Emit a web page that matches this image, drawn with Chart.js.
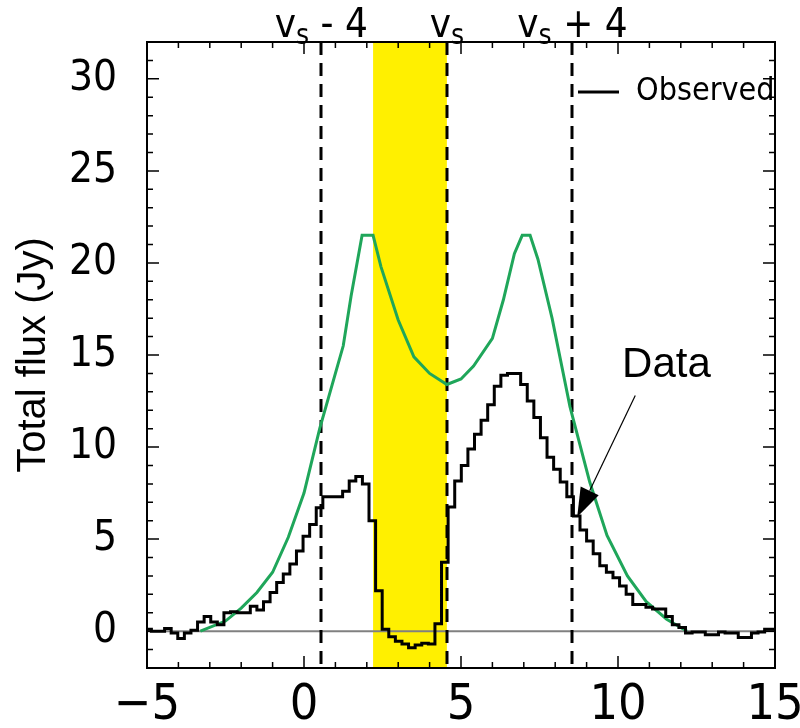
<!DOCTYPE html>
<html>
<head>
<meta charset="utf-8">
<script src="https://cdn.jsdelivr.net/npm/chart.js@4.4.1/dist/chart.umd.min.js"></script>
<style>
  html, body { margin: 0; padding: 0; background: #fff; }
</style>
</head>
<body>
<canvas id="fluxChart" width="800" height="728"></canvas>
<script>
// channel left edges (km/s) and observed flux (Jy)
const chanVel = [
  -5.07, -4.86, -4.65, -4.44, -4.23, -4.02, -3.81, -3.60, -3.39, -3.18,
  -2.97, -2.76, -2.55, -2.34, -2.13, -1.92, -1.71, -1.50, -1.29, -1.08,
  -0.87, -0.66, -0.45, -0.24, -0.03, 0.18, 0.39, 0.60, 0.81, 1.02,
  1.23, 1.44, 1.65, 1.86, 2.07, 2.28, 2.49, 2.70, 2.91, 3.12,
  3.33, 3.54, 3.75, 3.96, 4.17, 4.38, 4.59, 4.80, 5.01, 5.22,
  5.43, 5.64, 5.85, 6.06, 6.27, 6.48, 6.69, 6.90, 7.11, 7.32,
  7.53, 7.74, 7.95, 8.16, 8.37, 8.58, 8.79, 9.00, 9.21, 9.42,
  9.63, 9.84, 10.05, 10.26, 10.47, 10.68, 10.89, 11.10, 11.31, 11.52,
  11.73, 11.94, 12.15, 12.36, 12.57, 12.78, 12.99, 13.20, 13.41, 13.62,
  13.83, 14.04, 14.25, 14.46, 14.67, 14.88, 15.09
];
const obsFlux = [
  0.1, 0.0, 0.0, 0.15, -0.1, -0.4, -0.1, 0.05, 0.5, 0.8,
  0.5, 0.35, 1.0, 1.05, 1.0, 1.0, 1.35, 1.15, 1.6, 2.1,
  2.65, 3.1, 3.65, 4.35, 5.15, 5.8, 6.7, 7.3, 7.3, 7.3,
  7.6, 8.15, 8.4, 8.0, 6.0, 2.2, 0.1, -0.3, -0.55, -0.7,
  -0.9, -0.75, -0.65, -0.7, 0.4, 3.75, 6.75, 8.15, 9.0, 9.9,
  10.7, 11.45, 12.3, 13.3, 13.9, 14.0, 14.0, 13.4, 12.5, 11.6,
  10.5, 9.45, 8.8, 8.1, 7.3, 6.25, 5.5, 4.9, 4.2, 3.55,
  3.2, 2.9, 2.45, 2.0, 1.45, 1.45, 1.3, 1.2, 1.2, 0.8,
  0.35, 0.2, -0.1, -0.05, -0.05, -0.2, -0.2, -0.05, -0.1, -0.1,
  -0.35, -0.35, -0.1, -0.05, 0.1, 0.1, 0.1
];

// model profile
const modelVel = [
  -3.3, -2.5, -2.0, -1.5, -1.0, -0.5, 0.0, 0.5, 1.0, 1.25,
  1.5, 1.85, 2.2, 2.45, 3.0, 3.5, 4.0, 4.55, 5.0, 5.4,
  6.0, 6.35, 6.7, 6.95, 7.2, 7.45, 7.9, 8.47, 9.1, 9.65,
  10.3, 10.9, 11.55, 12.2
];
const modelFlux = [
  0.0, 0.55, 1.25, 2.1, 3.2, 5.1, 7.5, 11.0, 14.0, 15.5,
  18.2, 21.5, 21.5, 19.8, 16.9, 14.9, 14.0, 13.4, 13.7, 14.4,
  15.9, 18.0, 20.5, 21.5, 21.5, 20.2, 17.0, 12.2, 8.1, 5.2,
  3.0, 1.6, 0.65, 0.0
];

const xTickLabels = [-5, 0, 5, 10, 15];
const yTickLabels = [0, 5, 10, 15, 20, 25, 30];

const vSys = 4.55;
const markerOffsets = [-4, 0, 4];
const markerSuffix = [' - 4', '', ' + 4'];
const bandRange = [2.2, 4.55];

const arrowTail = [10.55, 12.8];
const arrowTip = [8.7, 6.2];
const dataLabelAt = [10.13, 13.8];

const narrow = "'Liberation Sans Narrow', 'DejaVu Sans Condensed', 'Liberation Sans', sans-serif";

const decor = {
  id: 'decor',
  beforeDatasetsDraw(chart) {
    const { ctx, chartArea: a, scales: { x, y } } = chart;
    ctx.save();
    // yellow band
    const b0 = x.getPixelForValue(bandRange[0]);
    const b1 = x.getPixelForValue(bandRange[1]);
    ctx.fillStyle = '#fff000';
    ctx.fillRect(b0, a.top, b1 - b0, a.bottom - a.top);
    // zero line
    const y0 = y.getPixelForValue(0);
    ctx.strokeStyle = '#808080';
    ctx.lineWidth = 2;
    ctx.beginPath();
    ctx.moveTo(a.left, y0);
    ctx.lineTo(a.right, y0);
    ctx.stroke();
    // dashed markers
    ctx.strokeStyle = '#000';
    ctx.lineWidth = 3;
    ctx.setLineDash([13, 8]);
    markerOffsets.forEach(o => {
      const px = Math.round(x.getPixelForValue(vSys + o));
      ctx.beginPath();
      ctx.moveTo(px, a.top);
      ctx.lineTo(px, a.bottom);
      ctx.stroke();
    });
    ctx.restore();
  },
  afterDatasetsDraw(chart) {
    const { ctx, chartArea: a, scales: { x, y } } = chart;
    ctx.save();
    // frame
    ctx.strokeStyle = '#000';
    ctx.lineWidth = 2;
    ctx.strokeRect(a.left, a.top, a.right - a.left, a.bottom - a.top);
    // inward ticks
    ctx.lineWidth = 1.5;
    ctx.beginPath();
    for (let v = -5; v <= 15; v++) {
      const px = x.getPixelForValue(v);
      const len = v % 5 === 0 ? 12 : 6;
      ctx.moveTo(px, a.bottom); ctx.lineTo(px, a.bottom - len);
      ctx.moveTo(px, a.top); ctx.lineTo(px, a.top + len);
    }
    for (let v = -2; v <= 32; v++) {
      const py = y.getPixelForValue(v);
      const len = v % 5 === 0 ? 12 : 6;
      ctx.moveTo(a.left, py); ctx.lineTo(a.left + len, py);
      ctx.moveTo(a.right, py); ctx.lineTo(a.right - len, py);
    }
    ctx.stroke();

    // legend
    const ly = a.top + 50;
    ctx.lineWidth = 3;
    ctx.beginPath();
    ctx.moveTo(a.right - 197, ly);
    ctx.lineTo(a.right - 156, ly);
    ctx.stroke();
    ctx.fillStyle = '#000';
    ctx.font = '32px ' + narrow;
    ctx.textBaseline = 'middle';
    ctx.textAlign = 'left';
    ctx.fillText('Observed', a.right - 139, ly);

    // top labels: v_s offsets
    ctx.textBaseline = 'alphabetic';
    markerOffsets.forEach((o, i) => {
      const cx = x.getPixelForValue(vSys + o);
      const big = '40px ' + narrow, small = '28px ' + narrow;
      ctx.font = big; const wv = ctx.measureText('v').width;
      const wsuf = ctx.measureText(markerSuffix[i]).width;
      ctx.font = small; const ws = ctx.measureText('s').width;
      let left = cx - (wv + ws + wsuf) / 2;
      const base = a.top - 5;
      ctx.font = big; ctx.fillText('v', left, base);
      ctx.font = small; ctx.fillText('s', left + wv, base + 7);
      ctx.font = big; ctx.fillText(markerSuffix[i], left + wv + ws, base);
    });

    // "Data" annotation
    ctx.font = '42px "Liberation Sans", Arial, sans-serif';
    ctx.fillText('Data', x.getPixelForValue(dataLabelAt[0]), y.getPixelForValue(dataLabelAt[1]));
    const tx = x.getPixelForValue(arrowTail[0]), ty = y.getPixelForValue(arrowTail[1]);
    const hx = x.getPixelForValue(arrowTip[0]), hy = y.getPixelForValue(arrowTip[1]);
    const ang = Math.atan2(hy - ty, hx - tx);
    const hl = 29, hw = 10;
    const bx = hx - hl * Math.cos(ang), by = hy - hl * Math.sin(ang);
    ctx.lineWidth = 1.2;
    ctx.beginPath();
    ctx.moveTo(tx, ty);
    ctx.lineTo(bx, by);
    ctx.stroke();
    ctx.beginPath();
    ctx.moveTo(hx, hy);
    ctx.lineTo(bx + hw * Math.sin(ang), by - hw * Math.cos(ang));
    ctx.lineTo(bx - hw * Math.sin(ang), by + hw * Math.cos(ang));
    ctx.closePath();
    ctx.fill();
    ctx.restore();
  }
};

new Chart(document.getElementById('fluxChart'), {
  type: 'line',
  data: {
    datasets: [
      {
        label: 'Observed',
        data: chanVel.map((v, i) => ({ x: v, y: obsFlux[i] })),
        stepped: true,
        borderColor: '#000',
        borderWidth: 3,
        pointRadius: 0,
        fill: false
      },
      {
        label: 'Model',
        data: modelVel.map((v, i) => ({ x: v, y: modelFlux[i] })),
        borderColor: '#1fa65a',
        borderWidth: 3,
        pointRadius: 0,
        tension: 0,
        fill: false
      }
    ]
  },
  options: {
    responsive: false,
    animation: false,
    devicePixelRatio: 1,
    layout: { padding: { top: 42, right: 25, left: 0, bottom: 0 } },
    plugins: { legend: { display: false }, tooltip: { enabled: false } },
    scales: {
      x: {
        type: 'linear',
        min: -5, max: 15,
        afterBuildTicks: s => { s.ticks = xTickLabels.map(v => ({ value: v })); },
        afterFit: s => { s.height = 60; s.paddingLeft = 0; s.paddingRight = 0; },
        grid: { display: false },
        border: { display: false },
        ticks: {
          color: '#000',
          padding: 0,
          maxRotation: 0,
          font: { family: narrow, size: 50 },
          callback: v => v < 0 ? '\u2212' + Math.abs(v) : String(v)
        }
      },
      y: {
        type: 'linear',
        min: -2, max: 32,
        afterBuildTicks: s => { s.ticks = yTickLabels.map(v => ({ value: v })); },
        afterFit: s => { s.width = 147; s.paddingTop = 0; s.paddingBottom = 0; },
        grid: { display: false },
        border: { display: false },
        ticks: {
          color: '#000',
          padding: 22,
          font: { family: narrow, size: 42 }
        },
        title: {
          display: true,
          text: 'Total flux (Jy)',
          color: '#000',
          padding: { top: 10, bottom: 0 },
          font: { family: '"Liberation Sans", Arial, sans-serif', size: 40 }
        }
      }
    }
  },
  plugins: [decor]
});
</script>
</body>
</html>
